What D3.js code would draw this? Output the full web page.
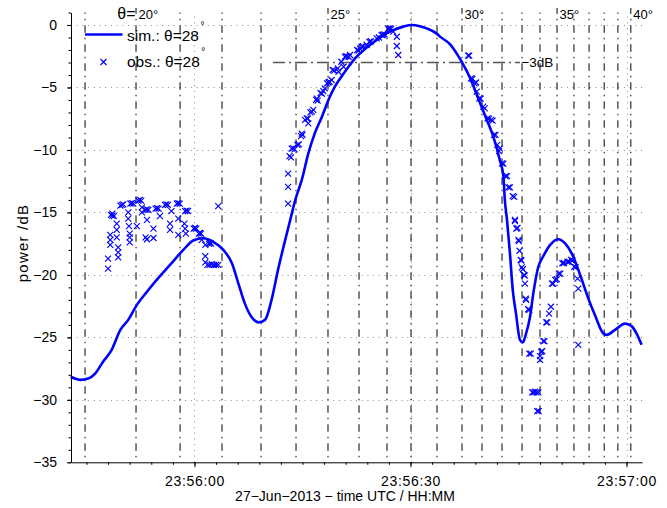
<!DOCTYPE html>
<html>
<head>
<meta charset="utf-8">
<script src="https://cdn.jsdelivr.net/npm/d3@7"></script>
<style>
  body { margin: 0; background: #fff; }
  svg { display: block; }
  text { font-family: "Liberation Sans", Arial, Helvetica, sans-serif; fill: #000; }
</style>
</head>
<body>
<svg id="chart" width="667" height="508"></svg>
<script>
// Times are seconds relative to 27-Jun-2013 23:56:00 UTC, power in dB.

// Simulated antenna pattern for θ = 28°
const simulated = [
  [-17.2,-28.15],[-16.6,-28.3],[-15.9,-28.4],[-14.75,-28.3],[-13.8,-27.9],[-12.7,-26.95],
  [-11.5,-26.0],[-10.3,-24.4],[-9.2,-23.6],[-8.0,-22.4],[-6.6,-21.35],[-5.25,-20.4],
  [-3.4,-19.2],[-1.55,-18.0],[-0.17,-17.25],[1.2,-17.07],[2.6,-17.35],[4.0,-18.0],
  [5.2,-19.07],[6.1,-20.7],[7.0,-22.3],[7.9,-23.35],[8.9,-23.8],[9.8,-23.6],
  [10.7,-22.0],[11.6,-19.6],[12.6,-17.2],[13.3,-15.6],[14.0,-14.0],[14.9,-12.4],
  [15.8,-10.3],[16.7,-8.67],[17.7,-7.34],[18.6,-6.0],[19.5,-4.94],[20.4,-4.14],
  [21.4,-3.34],[22.3,-2.67],[23.0,-2.27],[25.3,-1.2],[27.15,-0.53],[29.0,-0.13],
  [30.2,0.0],[31.3,-0.1],[32.25,-0.27],[33.6,-0.67],[34.1,-0.93],[35.5,-1.55],
  [36.4,-2.27],[37.1,-2.93],[38.3,-4.27],[39.4,-5.87],[40.6,-7.6],[41.5,-8.94],
  [42.4,-10.8],[42.9,-12.1],[43.1,-14.0],[43.4,-15.6],[43.8,-18.2],[44.2,-21.2],
  [44.65,-23.1],[45.2,-25.2],[45.6,-25.4],[46.0,-24.8],[46.6,-23.35],[47.05,-21.5],
  [47.75,-19.35],[48.4,-18.55],[49.4,-17.6],[50.5,-17.15],[51.5,-17.5],[52.4,-18.3],
  [53.5,-19.9],[54.7,-21.9],[55.6,-23.2],[56.8,-24.7],[57.25,-24.8],[58.4,-24.4],
  [59.8,-23.9],[60.7,-24.1],[61.4,-24.7],[62.1,-25.6]
];

// Observed power samples for θ = 28°
const observed = [
  // first sidelobe
  [-12.0,-19.5],[-12.0,-18.7],[-11.7,-17.2],[-11.7,-16.8],[-11.7,-17.6],
  [-11.6,-15.2],[-11.4,-15.25],[-11.2,-15.3],[-11.4,-15.1],
  [-10.8,-15.9],[-10.8,-16.4],[-10.8,-17.0],[-10.6,-17.8],[-10.6,-18.2],[-10.6,-18.6],
  [-10.3,-14.45],[-10.1,-14.4],[-9.9,-14.35],
  [-9.2,-15.0],[-9.2,-15.5],[-9.1,-16.1],[-9.0,-16.7],[-9.0,-17.0],[-9.0,-17.4],
  [-8.9,-14.3],[-8.7,-14.25],[-8.5,-14.3],
  [-8.0,-16.1],
  [-7.8,-14.05],[-7.6,-14.0],[-7.4,-14.05],[-7.3,-14.6],[-7.3,-15.0],
  [-6.8,-14.8],[-6.6,-14.75],[-6.4,-14.8],[-6.6,-15.6],[-6.8,-17.0],[-6.6,-17.15],
  [-5.7,-16.3],[-5.7,-17.05],
  [-5.4,-14.7],[-5.2,-14.65],[-5.0,-14.7],[-4.8,-15.3],
  [-4.1,-14.4],[-3.9,-14.35],[-3.7,-14.4],
  [-3.4,-15.9],[-3.4,-16.4],[-3.2,-14.9],
  [-2.45,-14.3],[-2.25,-14.25],[-2.05,-14.3],[-2.25,-15.5],[-2.25,-16.8],
  [-1.3,-14.9],[-1.1,-14.85],[-0.9,-14.9],
  [-1.4,-15.9],[-1.3,-16.3],[-1.2,-16.7],
  [-0.1,-16.3],[0.07,-16.25],[0.25,-16.3],
  [0.6,-16.7],[0.76,-16.65],[0.9,-16.7],
  [1.0,-17.2],[1.5,-17.6],[1.5,-18.5],[1.5,-19.0],
  [2.0,-17.5],[2.15,-17.45],[2.3,-17.5],
  [1.8,-19.2],[2.1,-19.2],[2.4,-19.15],[2.7,-19.2],[3.0,-19.2],[3.3,-19.2],
  [3.3,-14.5],
  // main lobe, rising edge
  [13.0,-14.3],[13.0,-12.95],[13.0,-11.9],[13.2,-10.5],[13.4,-10.6],
  [13.5,-9.9],[13.7,-9.85],[13.9,-9.95],
  [14.3,-9.6],[14.5,-9.55],
  [14.8,-8.9],[15.0,-8.8],[14.9,-8.7],
  [15.35,-7.6],[15.6,-7.47],[15.75,-7.5],[15.8,-7.87],
  [16.1,-7.0],[16.3,-6.94],[16.5,-6.8],
  [16.9,-6.0],[17.1,-6.05],[17.0,-5.9],
  [17.5,-5.45],[17.7,-5.5],[17.9,-5.3],[18.1,-5.07],
  [18.4,-4.67],[18.6,-4.6],[18.75,-4.54],[19.05,-4.4],
  [19.2,-3.6],[19.4,-3.65],[19.9,-3.47],[20.0,-3.74],
  [20.4,-2.94],[20.7,-3.34],
  [20.9,-2.54],[21.1,-2.5],[21.4,-2.54],[21.6,-2.4],
  [22.6,-2.0],[22.8,-2.05],[23.0,-1.9],
  [23.2,-1.74],[23.4,-1.7],[23.9,-1.6],
  [24.3,-1.34],[24.5,-1.3],[25.3,-1.07],[25.6,-1.0],
  [26.0,-0.8],[26.2,-0.78],[26.4,-0.75],
  [26.9,-0.3],[27.1,-0.27],[27.3,-0.3],[27.6,-0.53],
  [28.1,-0.94],[28.1,-1.68],[28.3,-2.4],
  // main lobe, falling edge
  [38.0,-2.45],[38.15,-2.45],
  [38.4,-4.27],[38.6,-4.3],[38.9,-4.67],[39.1,-4.6],[39.2,-5.34],
  [39.55,-5.87],[39.75,-5.9],[40.1,-6.54],[40.3,-6.67],
  [40.7,-7.47],[40.9,-7.5],[41.2,-7.6],[41.4,-7.65],
  [41.6,-8.8],[41.8,-8.8],[42.05,-9.6],[42.3,-10.1],[42.4,-9.87],
  [42.7,-11.07],[42.9,-11.1],[43.2,-12.1],[43.4,-12.1],
  [43.6,-13.0],[43.8,-13.0],[44.2,-13.7],[44.4,-13.75],
  [44.5,-15.6],[44.5,-15.7],[44.7,-16.3],[44.85,-16.25],
  [45.0,-17.2],[45.05,-17.3],[45.15,-18.07],
  [45.3,-18.8],[45.4,-18.85],[45.45,-19.4],[45.6,-19.55],
  [45.75,-20.0],[45.85,-20.05],[45.9,-20.7],[46.0,-21.9],[46.05,-22.0],
  [46.35,-22.75],[46.5,-22.8],
  // null and second sidelobe
  [46.5,-26.3],[46.7,-26.3],
  [46.9,-29.4],[47.1,-29.4],[47.3,-29.35],[47.5,-29.4],[47.75,-29.4],
  [47.6,-30.9],[47.8,-30.9],
  [48.0,-26.5],[48.0,-26.8],[48.15,-26.15],[48.3,-26.1],
  [48.45,-25.3],[48.6,-25.3],[48.85,-23.8],[49.0,-23.8],
  [49.25,-23.1],[49.5,-22.55],
  [49.65,-20.7],[49.8,-20.7],[50.1,-20.4],[50.3,-20.35],
  [50.6,-19.9],[50.8,-19.9],[51.1,-19.07],[51.3,-19.05],
  [51.8,-18.95],[52.0,-18.95],[52.3,-18.8],[52.5,-18.85],
  [52.75,-19.35],[52.95,-19.4],[53.2,-20.3],[53.3,-21.1],
  [53.3,-25.6]
];

// Elevation angle θ (degrees) and the time at which the satellite crossed it
const thetaDeg  = [19, 20, 21, 22, 23, 24, 25, 26, 27, 28, 29, 30, 31, 32, 33, 34, 35, 36, 37, 38, 39, 40];
const thetaTime = [-15.2, -8.12, -2.0, 3.82, 9.24, 14.1, 18.54, 22.85, 26.74, 30.07, 33.68, 37.15,
                   39.93, 42.71, 45.49, 47.99, 50.35, 52.7, 54.8, 56.9, 58.8, 60.6];
const thetaLabelled = [20, 25, 30, 35, 40];

// -3 dB reference line
const halfPowerLevel = -3;
const halfPowerSpan = [10.9, 45.2];

// Axis ticks
const yTicks = [0, -5, -10, -15, -20, -25, -30, -35];
const yGrid = [0, -5, -10, -15, -20, -25, -30];
const yLimits = [-35, 1];
const xLimits = [-17.15, 62.15];

const base = Date.UTC(2013, 5, 27, 23, 56, 0);
const toDate = s => new Date(base + s * 1000);

const svg = d3.select("#chart");
const plotLeft = 71, plotRight = 642, plotTop = 12.5, plotBottom = 462.3;

const x = d3.scaleUtc().domain(xLimits.map(toDate)).range([plotLeft, plotRight]);
const y = d3.scaleLinear().domain(yLimits).range([plotBottom, plotTop]);

const blue = "#0000ff";
const minus = v => (v < 0 ? "\u2212" + Math.abs(v) : String(v));

// dotted grid
const grid = svg.append("g").attr("stroke", "#8a8a8a").attr("stroke-width", 1)
  .attr("stroke-dasharray", "1,4.7").attr("fill", "none");
grid.selectAll("line.h").data(yGrid).join("line").attr("class", "h")
  .attr("x1", plotLeft).attr("x2", plotRight)
  .attr("y1", d => Math.round(y(d)) + 0.5).attr("y2", d => Math.round(y(d)) + 0.5);
const majorTimes = x.ticks(d3.utcSecond.every(30));
grid.selectAll("line.v").data(majorTimes).join("line").attr("class", "v")
  .attr("y1", plotBottom).attr("y2", plotTop)
  .attr("x1", d => Math.round(x(d)) + 0.5).attr("x2", d => Math.round(x(d)) + 0.5);

// θ crossing lines (dash-dot)
const thetaG = svg.append("g").attr("stroke", "#000").attr("stroke-width", 1)
  .attr("stroke-dasharray", "7.5,5,1.5,5").attr("stroke-dashoffset", 7.5).attr("fill", "none");
thetaG.selectAll("line").data(thetaDeg.map((d, i) => ({deg: d, t: thetaTime[i]}))).join("line")
  .attr("x1", d => x(toDate(d.t))).attr("x2", d => x(toDate(d.t)))
  .attr("y1", plotBottom)
  .attr("y2", d => thetaLabelled.includes(d.deg) ? 8 : plotTop);

// θ labels
const thetaLabels = svg.append("g");
thetaDeg.forEach((d, i) => {
  if (!thetaLabelled.includes(d)) return;
  const xx = x(toDate(thetaTime[i]));
  thetaLabels.append("text").attr("x", xx + 2.5).attr("y", 18.5)
    .attr("font-size", 13).text(d + "°");
  if (d === thetaLabelled[0]) {
    thetaLabels.append("text").attr("x", xx - 0.5).attr("y", 19)
      .attr("font-size", 16).attr("text-anchor", "end").text("θ=");
  }
});

// -3 dB line and label
svg.append("line")
  .attr("x1", x(toDate(halfPowerSpan[0]))).attr("x2", x(toDate(halfPowerSpan[1])))
  .attr("y1", y(halfPowerLevel)).attr("y2", y(halfPowerLevel))
  .attr("stroke", "#555").attr("stroke-width", 1.5).attr("stroke-dasharray", "12,4,2,4");
svg.append("text")
  .attr("x", x(toDate(halfPowerSpan[1])) + 1.5).attr("y", y(halfPowerLevel) + 4.5)
  .attr("font-size", 13.5).text("\u22123dB");

// simulated curve
const line = d3.line()
  .x(d => x(toDate(d[0])))
  .y(d => y(d[1]))
  .curve(d3.curveMonotoneX);
svg.append("path").datum(simulated)
  .attr("d", line).attr("fill", "none").attr("stroke", blue)
  .attr("stroke-width", 2.6).attr("stroke-linejoin", "round");

// observed samples
const cross = "M-3,-3L3,3M-3,3L3,-3";
svg.append("g").selectAll("path").data(observed).join("path")
  .attr("transform", d => `translate(${x(toDate(d[0]))},${y(d[1])})`)
  .attr("d", cross).attr("stroke", blue).attr("stroke-width", 1.15).attr("fill", "none");

// axes
const yAx = svg.append("g").attr("transform", `translate(${plotLeft},0)`)
  .call(d3.axisLeft(y).tickValues(yTicks).tickSize(4).tickSizeOuter(0).tickPadding(10).tickFormat(minus));
svg.append("g").attr("transform", `translate(${plotLeft},0)`)
  .call(d3.axisLeft(y).tickValues(d3.range(-35, 2, 1)).tickSize(2.5).tickSizeOuter(0).tickFormat(""))
  .select(".domain").remove();
const xAx = svg.append("g").attr("transform", `translate(0,${plotBottom})`)
  .call(d3.axisBottom(x).ticks(d3.utcSecond.every(30)).tickSize(5).tickSizeOuter(0)
    .tickPadding(9).tickFormat(d3.utcFormat("%H:%M:%S")));
svg.append("g").attr("transform", `translate(0,${plotBottom})`)
  .call(d3.axisBottom(x).ticks(d3.utcSecond.every(3)).tickSize(2.5).tickSizeOuter(0).tickFormat(""))
  .select(".domain").remove();
svg.selectAll(".tick text")
  .attr("font-family", "'Liberation Sans', Arial, Helvetica, sans-serif");
yAx.selectAll(".tick text").attr("font-size", 14);
xAx.selectAll(".tick text").attr("font-size", 14).attr("letter-spacing", 0.7);

// axis titles
svg.append("text").attr("x", 345).attr("y", 501).attr("text-anchor", "middle")
  .attr("font-size", 14).text("27\u2212Jun\u22122013 \u2212 time UTC / HH:MM");
svg.append("text").attr("transform", "translate(28,243) rotate(-90)")
  .attr("text-anchor", "middle").attr("font-size", 15).attr("letter-spacing", 1.2).text("power /dB");

// legend
const legend = svg.append("g");
legend.append("line").attr("x1", 85).attr("x2", 122.5).attr("y1", 34.5).attr("y2", 34.5)
  .attr("stroke", blue).attr("stroke-width", 2.6);
legend.append("path").attr("transform", "translate(103.5,62)").attr("d", cross)
  .attr("stroke", blue).attr("stroke-width", 1.15).attr("fill", "none");
const legendRows = [["sim.: θ=28", 40.5], ["obs.: θ=28", 66.5]];
legendRows.forEach(([label, yy]) => {
  const t = legend.append("text").attr("x", 127).attr("y", yy).attr("font-size", 15.5);
  t.append("tspan").text(label);
  t.append("tspan").attr("dx", 1.5).attr("dy", -12).attr("font-size", 10).text("°");
});
</script>
</body>
</html>
